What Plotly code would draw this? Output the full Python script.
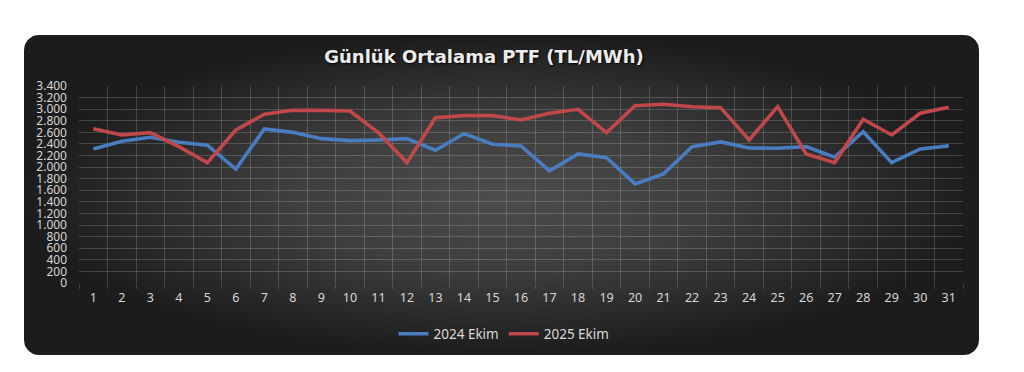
import numpy as np
import plotly.graph_objects as go

# ---- data ----
days = [str(d) for d in range(1, 32)]
ekim_2024 = [2314, 2447, 2515, 2430, 2378, 1964, 2659, 2600, 2491, 2457, 2469, 2491,
             2291, 2578, 2395, 2366, 1935, 2228, 2164, 1710, 1883, 2354, 2435, 2331,
             2326, 2354, 2171, 2612, 2078, 2314, 2366]
ekim_2025 = [2664, 2555, 2595, 2354, 2078, 2641, 2912, 2980, 2980, 2969, 2595, 2078,
             2853, 2888, 2888, 2814, 2929, 2998, 2595, 3060, 3084, 3043, 3026, 2469,
             3043, 2228, 2078, 2826, 2555, 2929, 3033]
series_names = ["2024 Ekim", "2025 Ekim"]
y_ticks = list(range(0, 3401, 200))
y_ticktext = [f"{v:,}".replace(",", ".") for v in y_ticks]
title_text = "Günlük Ortalama PTF (TL/MWh)"

W, H = 1024, 372
# panel geometry (pixels)
PX0, PX1, PY0, PY1, RAD = 24, 979, 35, 355, 15
# plot area (pixels)
AX0, AX1, AY0, AY1 = 79, 963, 86, 283


def rounded_rect(x0, x1, y0, y1, r, n=12):
    xs, ys = [], []
    corners = [(x1 - r, y0 + r, -90, 0), (x1 - r, y1 - r, 0, 90),
               (x0 + r, y1 - r, 90, 180), (x0 + r, y0 + r, 180, 270)]
    for cx, cy, a0, a1 in corners:
        for a in np.linspace(np.radians(a0), np.radians(a1), n):
            xs.append(cx + r * np.cos(a))
            ys.append(cy + r * np.sin(a))
    xs.append(xs[0]); ys.append(ys[0])
    return xs, ys


px, py = rounded_rect(PX0, PX1, PY0, PY1, RAD)

fig = go.Figure()

# background panel on full-figure axes
fig.add_trace(go.Scatter(
    x=px, y=py, mode="lines", fill="toself", line=dict(width=0, color="rgba(0,0,0,0)"),
    fillgradient=dict(type="radial",
                      colorscale=[[0, "#4c4c4c"], [0.45, "#3e3e3e"], [1, "#1c1c1c"]]),
    hoverinfo="skip", showlegend=False, xaxis="x", yaxis="y"))

fig.add_trace(go.Scatter(
    x=days, y=ekim_2024, name=series_names[0], mode="lines",
    line=dict(color="#4a7cc0", width=3.6), xaxis="x2", yaxis="y2"))
fig.add_trace(go.Scatter(
    x=days, y=ekim_2025, name=series_names[1], mode="lines",
    line=dict(color="#c0474a", width=3.6), xaxis="x2", yaxis="y2"))

grid_col = "rgba(255,255,255,0.17)"
tick_font = dict(family="Noto Sans", size=12.5, color="#d6d6d6")
ytick_font = dict(family="Noto Sans", size=12, color="#d6d6d6")

fig.update_layout(
    template="none",
    width=W, height=H,
    margin=dict(l=0, r=0, t=0, b=0, pad=0, autoexpand=False),
    paper_bgcolor="white", plot_bgcolor="rgba(0,0,0,0)",
    xaxis=dict(domain=[0, 1], range=[0, W], visible=False, fixedrange=True,
               automargin=False),
    yaxis=dict(domain=[0, 1], range=[H, 0], visible=False, fixedrange=True,
               automargin=False),
    xaxis2=dict(domain=[AX0 / W, AX1 / W], anchor="y2", type="category",
                range=[-0.5, len(days) - 0.5],
                tickson="boundaries", ticks="outside", ticklen=5, tickcolor=grid_col,
                showgrid=True, gridcolor=grid_col, gridwidth=1,
                showline=False, zeroline=False, tickfont=tick_font,
                ticklabelstandoff=5, automargin=False),
    yaxis2=dict(domain=[(H - AY1) / H, (H - AY0) / H], anchor="x2",
                range=[0, 3400], tickvals=y_ticks, ticktext=y_ticktext,
                showgrid=True, gridcolor=grid_col, gridwidth=1,
                zeroline=False, showline=False, ticks="", tickfont=ytick_font,
                ticklabelstandoff=11, automargin=False),
    title=dict(text=f"<b>{title_text}</b>", x=484 / W, xanchor="center",
               y=1 - 57 / H, yanchor="middle", yref="container",
               font=dict(family="DejaVu Sans", size=18, color="#ececec",
                         shadow="1px 1px 2px #000000")),
    legend=dict(orientation="h", x=504 / W, xanchor="center",
                y=(H - 334) / H, yanchor="middle",
                bgcolor="rgba(0,0,0,0)",
                font=dict(family="Noto Sans", size=13.5, color="#d9d9d9"),
                itemwidth=30),
    showlegend=True,
)

fig.write_html("out.html",
               config={"displayModeBar": False},
               post_script="document.body.style.margin='0';document.body.style.overflow='hidden';")
